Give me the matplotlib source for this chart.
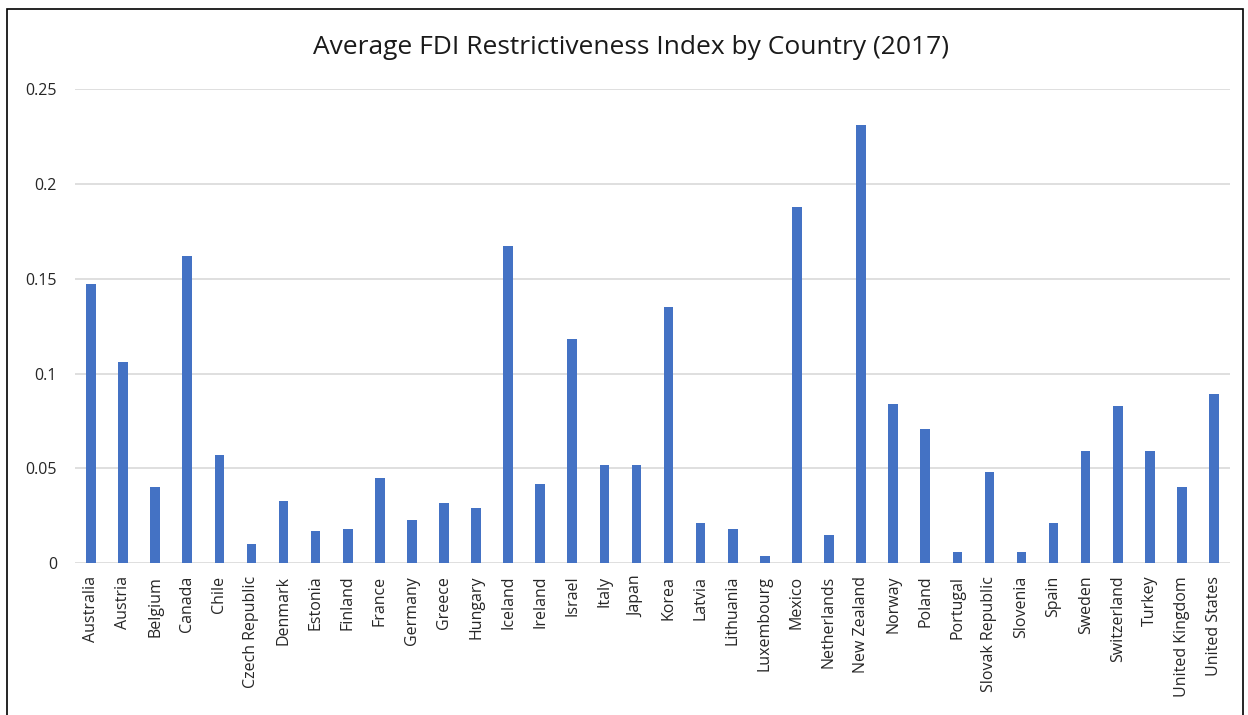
import numpy as np
import matplotlib.pyplot as plt
from matplotlib.patches import Rectangle

countries = ["Australia", "Austria", "Belgium", "Canada", "Chile", "Czech Republic",
             "Denmark", "Estonia", "Finland", "France", "Germany", "Greece", "Hungary",
             "Iceland", "Ireland", "Israel", "Italy", "Japan", "Korea", "Latvia",
             "Lithuania", "Luxembourg", "Mexico", "Netherlands", "New Zealand", "Norway",
             "Poland", "Portugal", "Slovak Republic", "Slovenia", "Spain", "Sweden",
             "Switzerland", "Turkey", "United Kingdom", "United States"]
fdi_index = [0.147, 0.106, 0.040, 0.162, 0.057, 0.010,
             0.033, 0.017, 0.018, 0.045, 0.023, 0.032, 0.029,
             0.167, 0.042, 0.118, 0.052, 0.052, 0.135, 0.021,
             0.018, 0.004, 0.188, 0.015, 0.231, 0.084,
             0.071, 0.006, 0.048, 0.006, 0.021, 0.059,
             0.083, 0.059, 0.040, 0.089]
yticks = [0, 0.05, 0.1, 0.15, 0.2, 0.25]
ytick_labels = ["0", "0.05", "0.1", "0.15", "0.2", "0.25"]

plt.rcParams['font.family'] = ['Open Sans', 'DejaVu Sans']

fig = plt.figure(figsize=(12.48, 7.15), dpi=100)
ax = fig.add_axes([0.0601, 0.2122, 0.9255, 0.6633])

x = np.arange(len(countries))
ax.bar(x, fdi_index, width=0.3, color="#4472C4", zorder=3)

ax.set_xlim(-0.5, len(countries) - 0.5)
ax.set_ylim(0, 0.25)
ax.set_yticks(yticks)
ax.set_yticklabels(ytick_labels, fontsize=11.5, color="#262626")
ax.set_xticks(x)
ax.set_xticklabels(countries, rotation=90, fontsize=11.5, color="#262626")
ax.tick_params(length=0)
ax.tick_params(axis="y", pad=13)
ax.tick_params(axis="x", pad=9)
ax.grid(axis="y", color="#d9d9d9", linewidth=1.2, zorder=0)
for s in ax.spines.values():
    s.set_visible(False)

fig.text(0.5056, 0.934, "Average FDI Restrictiveness Index by Country (2017)",
         ha="center", va="center", fontsize=19, color="#1a1a1a")

# frame round the chart area
fig.add_artist(Rectangle((7 / 1248, -0.01), 1236 / 1248, 1 - 9 / 715 + 0.01,
                         transform=fig.transFigure, fill=False,
                         edgecolor="black", linewidth=1.2))

fig.savefig("out.png", dpi=100)
